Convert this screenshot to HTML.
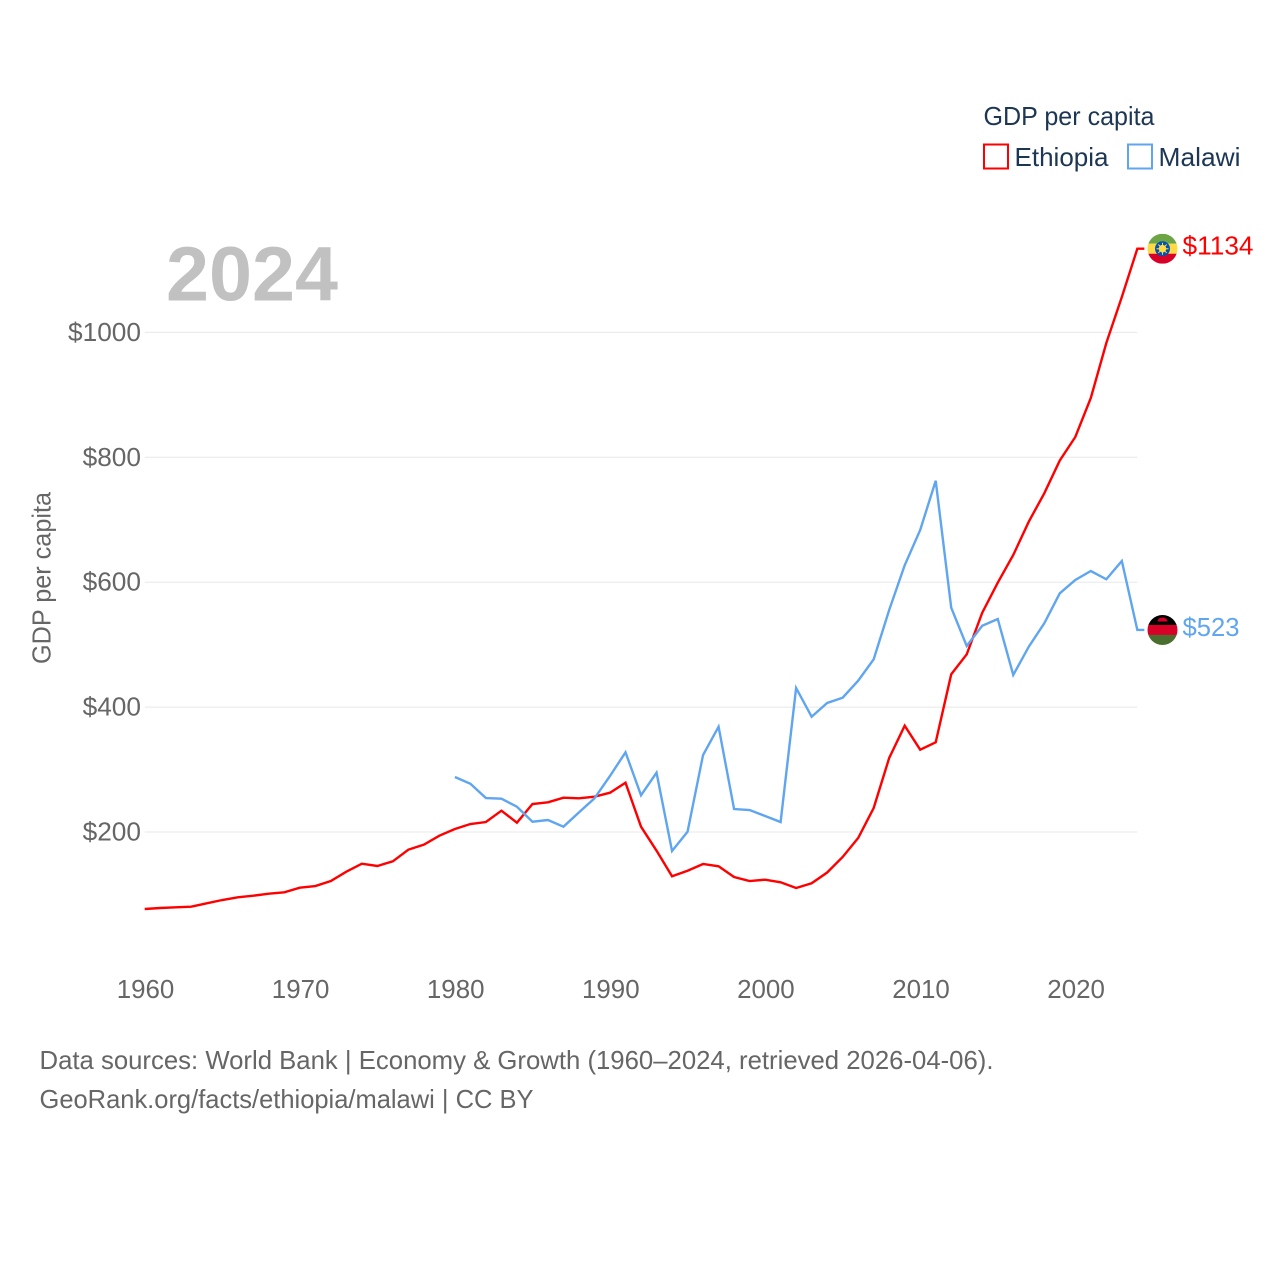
<!DOCTYPE html>
<html>
<head>
<meta charset="utf-8">
<title>GDP per capita: Ethiopia and Malawi</title>
<style>
html,body{margin:0;padding:0;background:#fff;width:1280px;height:1280px;overflow:hidden}
svg{display:block}
text{font-family:"Liberation Sans",sans-serif}
</style>
</head>
<body>
<svg id="chart" width="1280" height="1280" viewBox="0 0 1280 1280" xmlns="http://www.w3.org/2000/svg">
  <g id="grid"></g>
  <text x="166" y="300.5" font-size="77" font-weight="700" fill="#c1c1c1" textLength="172" lengthAdjust="spacingAndGlyphs">2024</text>
  <g id="yticks"></g>
  <g id="xticks"></g>
  <text transform="translate(50.5,664) rotate(-90)" font-size="26" fill="#666666" textLength="172" lengthAdjust="spacingAndGlyphs">GDP per capita</text>

  <path id="line-ethiopia" fill="none" stroke="#ff0000" stroke-width="2.4"/>
  <path id="line-malawi" fill="none" stroke="#60a5ef" stroke-width="2.4"/>

  <g id="end-ethiopia">
    <clipPath id="clip-et"><circle cx="0" cy="0" r="15"/></clipPath>
    <g clip-path="url(#clip-et)">
      <rect x="-15" y="-15" width="30" height="10" fill="#6da544"/>
      <rect x="-15" y="-5" width="30" height="10" fill="#ffda44"/>
      <rect x="-15" y="5" width="30" height="10" fill="#d80027"/>
      <circle r="7.5" fill="#0052b4"/>
      <circle r="3.8" fill="#ffda44"/>
      <path d="M0-6V6M-6 0H6M-4.2-4.2L4.2 4.2M-4.2 4.2L4.2-4.2" stroke="#ffda44" stroke-width="1"/>
    </g>
    <text id="label-ethiopia" x="20" y="6" font-size="26" fill="#ff0000" textLength="71" lengthAdjust="spacingAndGlyphs"></text>
  </g>
  <g id="end-malawi">
    <clipPath id="clip-mw"><circle cx="0" cy="0" r="15"/></clipPath>
    <g clip-path="url(#clip-mw)">
      <rect x="-15" y="-15" width="30" height="10" fill="#000000"/>
      <rect x="-15" y="-5" width="30" height="10" fill="#d80027"/>
      <rect x="-15" y="5" width="30" height="10" fill="#496e2d"/>
      <path d="M-5-8.5a5 4 0 0 1 10 0z" fill="#d80027"/>
    </g>
    <text id="label-malawi" x="20" y="6" font-size="26" fill="#60a5ef" textLength="57" lengthAdjust="spacingAndGlyphs"></text>
  </g>

  <g>
    <text x="983.5" y="125" font-size="26" fill="#1c3654" textLength="171" lengthAdjust="spacingAndGlyphs">GDP per capita</text>
    <g>
      <rect x="984" y="144.5" width="24" height="24" fill="#fff" stroke="#ff0000" stroke-width="2"/>
      <text x="1014.5" y="166" font-size="26" fill="#1c3654" textLength="94" lengthAdjust="spacingAndGlyphs">Ethiopia</text>
    </g>
    <g>
      <rect x="1128" y="144.5" width="24" height="24" fill="#fff" stroke="#60a5ef" stroke-width="2"/>
      <text x="1158.5" y="166" font-size="26" fill="#1c3654" textLength="82" lengthAdjust="spacingAndGlyphs">Malawi</text>
    </g>
  </g>

  <g>
    <text x="39.5" y="1069" font-size="26" fill="#666666" textLength="954" lengthAdjust="spacingAndGlyphs">Data sources: World Bank | Economy &amp; Growth (1960–2024, retrieved 2026-04-06).</text>
    <text x="39.5" y="1108" font-size="26" fill="#666666" textLength="494" lengthAdjust="spacingAndGlyphs">GeoRank.org/facts/ethiopia/malawi | CC BY</text>
  </g>
</svg>
<script>
const yTickValues = [200, 400, 600, 800, 1000];
const yTickLabels = ["$200", "$400", "$600", "$800", "$1000"];
const xTickValues = [1960, 1970, 1980, 1990, 2000, 2010, 2020];
const xTickLabels = ["1960", "1970", "1980", "1990", "2000", "2010", "2020"];
const ethiopiaStartYear = 1960;
const ethiopiaValues = [
  76.7, 78.3, 79.4, 80.4, 85.8, 91.1, 95.4, 98, 101.2, 103.4,
  110.8, 113.5, 121.5, 136.4, 149.2, 145.6, 153.1, 171.7, 179.7, 194.1,
  204.8, 212.8, 216, 234.1, 214.9, 244.8, 247.6, 254.9, 254, 256.5,
  262.9, 278.9, 208.5, 170.1, 129.1, 138, 148.8, 145.1, 127.9, 121.5,
  123.6, 119.5, 110.3, 117.9, 135.1, 160, 190.4, 238.4, 318.5, 370.2,
  331.8, 343.6, 452.5, 484.5, 551.2, 599.2, 643.6, 696.9, 742.4, 794.9,
  832.5, 895, 983, 1056.7, 1134
];
const malawiStartYear = 1980;
const malawiValues = [
  288.1, 277.3, 254.4, 253.3, 240.5, 216.5, 219.2, 208.5, 231.5, 254,
  289.7, 327.6, 258.8, 295, 169.6, 200.5, 323.3, 368.6, 236.8, 235.2,
  225.6, 216, 430.6, 384.6, 406.6, 415, 442.3, 476.5, 555.5, 627.1,
  683.6, 762.5, 559.2, 497.8, 530.3, 541.1, 451.4, 496.7, 534.2, 582.2,
  603.5, 617.9, 604.7, 634, 523.5
];
const ethiopiaLabel = "$1134";
const malawiLabel = "$523";

const SVG_NS = "http://www.w3.org/2000/svg";
function xScale(year) { return 144.7 + (year - 1960) * 15.51; }
function yScale(value) { return 832 - (value - 200) * 0.6245; }

function buildPath(values, startYear) {
  const parts = values.map(function (v, i) {
    return (i ? "L" : "M") + xScale(startYear + i).toFixed(2) + " " + yScale(v).toFixed(2);
  });
  const lastValue = values[values.length - 1];
  parts.push("H" + (xScale(startYear + values.length - 1) + 7).toFixed(2));
  parts.push("V" + yScale(lastValue).toFixed(2));
  return parts.join("");
}

const gridGroup = document.getElementById("grid");
const yTickGroup = document.getElementById("yticks");
yTickValues.forEach(function (v, i) {
  const line = document.createElementNS(SVG_NS, "line");
  
  
  line.setAttribute("x1", xScale(1960));
  line.setAttribute("x2", xScale(2024));
  line.setAttribute("y1", yScale(v));
  line.setAttribute("y2", yScale(v));
  line.setAttribute("stroke", "#e8e8e8");
  line.setAttribute("stroke-width", "1");
  gridGroup.appendChild(line);

  const label = document.createElementNS(SVG_NS, "text");
  
  
  label.setAttribute("x", 141);
  label.setAttribute("y", yScale(v) + 8.5);
  label.setAttribute("text-anchor", "end");
  label.setAttribute("font-size", "26");
  label.setAttribute("fill", "#666666");
  label.setAttribute("textLength", yTickLabels[i].length * 14.6);
  label.setAttribute("lengthAdjust", "spacingAndGlyphs");
  label.textContent = yTickLabels[i];
  yTickGroup.appendChild(label);
});

const xTickGroup = document.getElementById("xticks");
xTickValues.forEach(function (v, i) {
  const label = document.createElementNS(SVG_NS, "text");
  
  
  label.setAttribute("x", xScale(v) + 0.8);
  label.setAttribute("y", 998);
  label.setAttribute("text-anchor", "middle");
  label.setAttribute("font-size", "26");
  label.setAttribute("fill", "#666666");
  label.setAttribute("textLength", xTickLabels[i].length * 14.4);
  label.setAttribute("lengthAdjust", "spacingAndGlyphs");
  label.textContent = xTickLabels[i];
  xTickGroup.appendChild(label);
});

document.getElementById("line-ethiopia").setAttribute("d", buildPath(ethiopiaValues, ethiopiaStartYear));
document.getElementById("line-malawi").setAttribute("d", buildPath(malawiValues, malawiStartYear));

function placeEnd(id, values, labelId, labelText) {
  const y = yScale(values[values.length - 1]);
  document.getElementById(id).setAttribute("transform", "translate(1162.5," + y.toFixed(2) + ")");
  document.getElementById(labelId).textContent = labelText;
}
placeEnd("end-ethiopia", ethiopiaValues, "label-ethiopia", ethiopiaLabel);
placeEnd("end-malawi", malawiValues, "label-malawi", malawiLabel);
</script>
</body>
</html>
